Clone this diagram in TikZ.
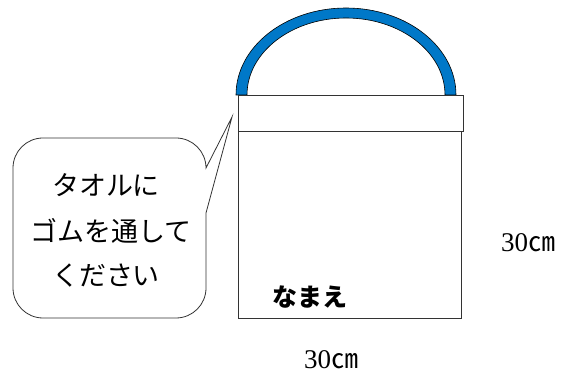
\documentclass[tikz,border=0pt]{standalone}
\usepackage{fontspec}
\setmainfont{Liberation Serif}
\newfontfamily\jp{Noto Sans CJK JP}
\definecolor{handleblue}{HTML}{0078C8}
\definecolor{edge}{HTML}{333333}
\tikzset{
  bagline/.style={draw=edge, line width=0.9pt, fill=white},
  bubbletext/.style={font=\jp\fontsize{27}{30}\selectfont, inner sep=0pt, anchor=center},
  dimtext/.style={font=\fontsize{27}{30}\selectfont, inner sep=0pt, anchor=center},
}
\begin{document}
\begin{tikzpicture}[x=1pt,y=1pt]
\useasboundingbox (0,0) rectangle (565,377);
% handle
\path[fill=handleblue, draw=black, line width=0.6pt]
  (236,282) arc[start angle=180, end angle=0, x radius=110, y radius=87]
  -- (445,282) arc[start angle=0, end angle=180, x radius=99, y radius=77] -- cycle;
% bag body and cuff
\draw[bagline] (238,59) rectangle (461,246);
\draw[bagline] (238,246) rectangle (463,282);
% speech bubble
\draw[draw=edge, line width=0.8pt, fill=white]
  (43,239) -- (176,239) arc[start angle=90, end angle=0, radius=30]
  -- (232,260) -- (206,164) -- (206,89) arc[start angle=0, end angle=-90, radius=30]
  -- (43,59) arc[start angle=270, end angle=180, radius=30]
  -- (13,209) arc[start angle=180, end angle=90, radius=30] -- cycle;
\node[bubbletext] (l1) at (106,192) {タオルに};
\node[bubbletext] (l2) at (111,146) {ゴムを通して};
\node[bubbletext] (l3) at (106,101) {ください};
% name label
\node[font=\jp\bfseries\fontsize{25}{28}\selectfont, inner sep=0pt] (name) at (310,80) {なまえ};
% dimensions
\node[dimtext] (wdim) at (331,17) {30{\jp ㎝}};
\node[dimtext] (hdim) at (528,134) {30{\jp ㎝}};
\end{tikzpicture}
\end{document}
